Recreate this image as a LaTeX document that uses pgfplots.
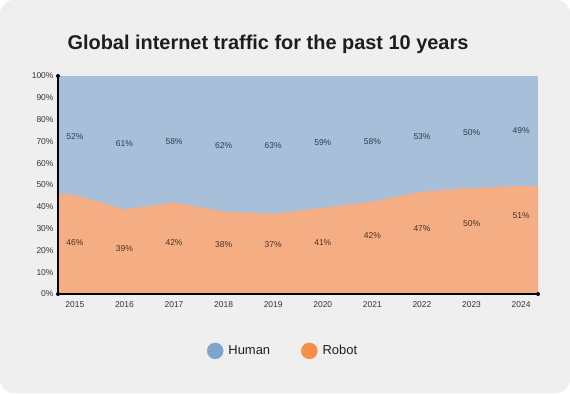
\documentclass[border=0pt]{standalone}
\usepackage{pgfplots}
\pgfplotsset{compat=1.18}
\usepackage{fontspec}
\setmainfont{Liberation Sans}
\newfontfamily\titlefont{Liberation Sans}
\definecolor{bg}{HTML}{EFEFEF}
\definecolor{humanA}{HTML}{A7BFD8}
\definecolor{robotA}{HTML}{F5AE83}
\definecolor{humanL}{HTML}{80A4CD}
\definecolor{robotL}{HTML}{F88D47}
\definecolor{txt}{HTML}{1E1E1E}
\definecolor{tick}{HTML}{333333}
\definecolor{hlab}{HTML}{2C3D55}
\definecolor{rlab}{HTML}{4A3122}
\pgfplotstableread{
x y
2014.66 46
2015 45.5
2016 38.8
2017 42
2018 37.8
2019 36.8
2020 39.5
2021 42.3
2022 47
2023 48.6
2024 49.5
2024.34 49.6
}\robot
\pgfplotstableread{
x y lab
2015 72 52\%
2016 69 61\%
2017 70 58\%
2018 68 62\%
2019 68 63\%
2020 69.4 59\%
2021 70 58\%
2022 72 53\%
2023 74 50\%
2024 75 49\%
}\humanlab
\pgfplotstableread{
x y lab
2015 23.5 46\%
2016 21 39\%
2017 23.5 42\%
2018 22.5 38\%
2019 22.5 37\%
2020 23.7 41\%
2021 26.7 42\%
2022 30 47\%
2023 32.4 50\%
2024 35.9 51\%
}\robotlab
\begin{document}
\begin{tikzpicture}[x=1bp,y=1bp]
\useasboundingbox (0,0) rectangle (570,393);
\fill[white] (0,0) rectangle (570,393);
\fill[bg, rounded corners=14bp] (0,0) rectangle (570,393);
\node[font=\titlefont\bfseries\fontsize{20}{24}\selectfont, text=txt] at (268,349) {Global internet traffic for the past 10 years};
\begin{axis}[
  at={(58bp,99bp)}, anchor=south west,
  scale only axis, width=480bp, height=218bp,
  xmin=2014.66, xmax=2024.34, ymin=0, ymax=100,
  axis lines=left,
  axis line style={-, black, line width=1.1pt},
  xtick={2015,...,2024}, ytick={0,10,...,100},
  major tick length=0pt,
  xticklabel style={/pgf/number format/1000 sep={}, font=\fontsize{8.5}{10}\selectfont, text=tick, yshift=-4bp},
  yticklabel style={font=\fontsize{8.5}{10}\selectfont, text=tick, xshift=-1bp},
  yticklabel={\pgfmathprintnumber{\tick}\%},
  /pgf/number format/assume math mode=true,
  clip=false,
  axis on top,
  legend style={at={(axis description cs:0.472,-0.261)}, anchor=center, draw=none, fill=none,
    font=\fontsize{13}{15}\selectfont, text=txt,
    nodes={inner xsep=5bp},
    /tikz/every even column/.append style={column sep=26bp}},
  legend columns=2,
  legend cell align=left,
  nodes near coords style={font=\fontsize{8.5}{10}\selectfont},
]
\addplot[fill=humanA, draw=none, forget plot] coordinates {(2014.66,100) (2024.34,100)} \closedcycle;
\addplot[fill=robotA, draw=none, forget plot] table[x=x,y=y] {\robot} \closedcycle;
\addplot[only marks, mark=none, nodes near coords, point meta=explicit symbolic,
  nodes near coords style={anchor=center, text=hlab}, forget plot] table[x=x,y=y,meta=lab] {\humanlab};
\addplot[only marks, mark=none, nodes near coords, point meta=explicit symbolic,
  nodes near coords style={anchor=center, text=rlab}, forget plot] table[x=x,y=y,meta=lab] {\robotlab};
\addlegendimage{legend image code/.code={\fill[humanL] (8bp,0) circle (8bp);}}
\addlegendentry{Human}
\addlegendimage{legend image code/.code={\fill[robotL] (8bp,0) circle (8bp);}}
\addlegendentry{Robot}
\fill[black] (rel axis cs:0,0) circle (2bp);
\fill[black] (rel axis cs:0,1) circle (2bp);
\fill[black] (rel axis cs:1,0) circle (2bp);
\end{axis}
\end{tikzpicture}
\end{document}
